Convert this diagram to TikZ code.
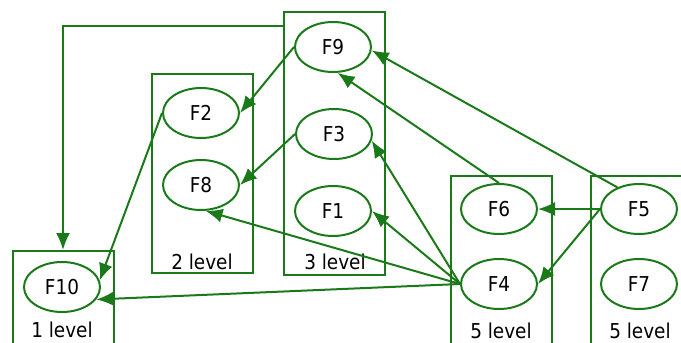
\documentclass[tikz,border=0pt]{standalone}
\usepackage{fontspec}
\setmainfont{DejaVu Sans Condensed}
\usepackage{tikz}
\usetikzlibrary{arrows.meta}
\usetikzlibrary{shapes,positioning,calc}
\definecolor{lgreen}{RGB}{26,122,26}

\begin{document}
\begin{tikzpicture}[x=1pt, y=-1pt, >={Latex[length=17pt,width=14pt]},
	every node/.style={font=\fontsize{20.5}{24}\selectfont},
	fn/.style={draw=lgreen, line width=2pt, ellipse, minimum width=76pt, minimum height=50pt, inner sep=0pt},
	lvl/.style={draw=lgreen, line width=2pt, rectangle, inner sep=0pt, minimum width=101pt},
	link/.style={->, draw=lgreen, line width=2pt}]
		\useasboundingbox (0,0) rectangle (681,343);
		% levels
		\node[lvl, minimum height=109pt] (l1) at (63,305.5) {};
		\node[lvl, minimum height=199pt] (l2) at (202,173.5) {};
		\node[lvl, minimum height=263pt] (l3) at (334.5,143.5) {};
		\node[lvl, minimum height=184pt] (l5a) at (501.5,268) {};
		\node[lvl, minimum height=184pt] (l5b) at (641.5,268) {};
		\node (t1) at (62,330) {1 level};
		\node (t2) at (202,262) {2 level};
		\node (t3) at (335,262) {3 level};
		\node (t5a) at (501,331) {5 level};
		\node (t5b) at (640,331) {5 level};
		% functions
		\node[fn] (f10) at (62,287) {F10};
		\node[fn] (f2) at (201,113) {F2};
		\node[fn] (f8) at (201,185) {F8};
		\node[fn] (f9) at (333,47) {F9};
		\node[fn] (f3) at (334,134) {F3};
		\node[fn] (f1) at (333,211) {F1};
		\node[fn] (f6) at (499,209) {F6};
		\node[fn] (f4) at (499,284) {F4};
		\node[fn] (f5) at (639,209) {F5};
		\node[fn] (f7) at (639,284) {F7};
		
		\draw[link] ($(l3.north west)+(0,15)$) -| (l1.north);
		\draw[link] (f9.west) -- (f2.east);
		\draw[link] (f3.west) -- (f8.east);
		\draw[link] (f2.west) -- (f10.10);
		\draw[link] (f4.west) -- (f10.-20);
		\draw[link] (f4.west) -- (f8.-80);
		\draw[link] (f4.west) -- (f1.east);
		\draw[link] (f4.west) -- (f3.-10);
		\draw[link] (f6.north) -- (f9.-80);
		\draw[link] (f5.135) -- (f9.-5);
		\draw[link] (f5.west) -- (f6.east);
		\draw[link] (f5.west) -- (f4.east);
\end{tikzpicture}
\end{document}
